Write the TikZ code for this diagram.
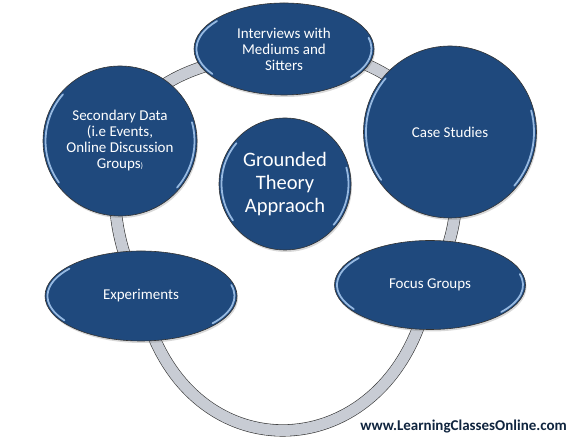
\documentclass[tikz,border=0pt]{standalone}
\usepackage{fontspec}
\setmainfont{Carlito}
\usetikzlibrary{shapes.geometric,shadows}

\definecolor{nodeblue}{RGB}{31,73,125}
\definecolor{rimblue}{RGB}{150,185,225}
\definecolor{ringgray}{RGB}{200,204,212}
\definecolor{webnavy}{RGB}{16,37,63}

\pgfdeclarelayer{paper}
\pgfdeclarelayer{back}
\pgfsetlayers{paper,back,main}

\begin{document}
\begin{tikzpicture}[x=1pt,y=1pt,
  topic/.style={ellipse,draw=black!80,line width=0.6pt,fill=nodeblue,text=white,
    inner sep=0pt,align=center,font=\fontsize{15}{16}\selectfont,
    drop shadow={opacity=0.3,shadow xshift=1pt,shadow yshift=-2pt}},
  rim/.style={rimblue,line width=1.8pt,line cap=round},
  ring/.style={draw=black!80,line width=0.6pt,double=ringgray,double distance=11pt}]

\useasboundingbox (0,0) rectangle (576,441);
\begin{pgfonlayer}{paper}
\fill[white] (0,0) rectangle (576,441);
\end{pgfonlayer}

% the five sources round the centre
\node[topic,minimum width=180,minimum height=92] (int) at (284,392) {Interviews with\\Mediums and\\Sitters};
\node[topic,minimum width=154,minimum height=150] (sec) at (120,300) {Secondary Data\\(i.e Events,\\Online Discussion\\Groups{\fontsize{8}{8}\selectfont )}};
\node[topic,minimum width=173,minimum height=172] (cs) at (450,309) {Case Studies};
\node[topic,minimum width=192,minimum height=90] (exp) at (141,145) {Experiments};
\node[topic,minimum width=191,minimum height=89] (fg) at (430,156) {Focus Groups};
\node[topic,minimum width=132,minimum height=132,font=\fontsize{20.5}{23}\selectfont] (gt) at (285,257) {Grounded\\Theory\\Appraoch};

% gloss on the rims
\foreach \n/\a/\b in {int/87.5/43.5, sec/74.5/72.5, cs/84/83.5, exp/93.5/42.5, fg/93/42, gt/63.5/63.5}{
  \draw[rim] (\n.center) ++(140:\a pt and \b pt) arc[start angle=140,end angle=215,x radius=\a pt,y radius=\b pt];
  \draw[rim] (\n.center) ++(-40:\a pt and \b pt) arc[start angle=-40,end angle=15,x radius=\a pt,y radius=\b pt];
}

\node[anchor=base east,inner sep=0pt,font=\bfseries\fontsize{15}{17}\selectfont,text=webnavy] (web) at (567,10) {www.LearningClassesOnline.com};

% the ring behind them
\begin{pgfonlayer}{back}
\path[ring] (sec.center) to[out=70,in=190] (int.center)
  to[out=0,in=130] (cs.center)
  to[out=-80,in=60] (fg.center)
  .. controls +(-100:190) and +(-78:190) .. (exp.center)
  to[out=115,in=-100] (sec.center);
\end{pgfonlayer}

\end{tikzpicture}
\end{document}
